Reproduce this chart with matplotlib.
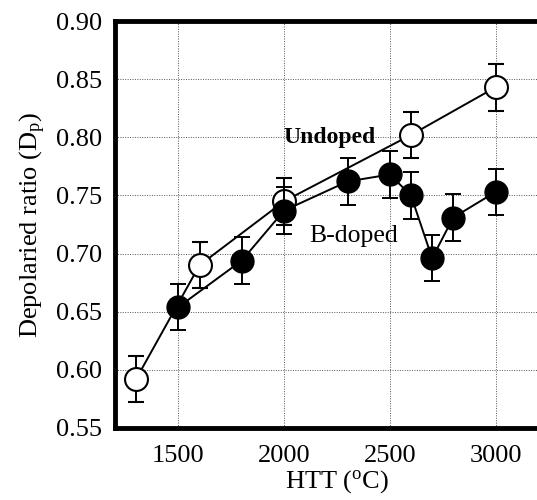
import numpy as np
import matplotlib
matplotlib.use("Agg")
import matplotlib.pyplot as plt

plt.rcParams['font.family'] = ['Liberation Serif', 'DejaVu Serif']
plt.rcParams['mathtext.fontset'] = 'custom'
plt.rcParams['mathtext.rm'] = 'Liberation Serif'
plt.rcParams['mathtext.it'] = 'Liberation Serif'

# undoped samples (open circles)
htt_undoped = [1300, 1600, 2000, 2600, 3000]
dp_undoped = [0.592, 0.690, 0.745, 0.802, 0.843]
err_undoped = [0.020, 0.020, 0.020, 0.020, 0.020]

# boron doped samples (filled circles)
htt_doped = [1500, 1800, 2000, 2300, 2500, 2600, 2700, 2800, 3000]
dp_doped = [0.654, 0.694, 0.737, 0.762, 0.768, 0.750, 0.696, 0.731, 0.753]
err_doped = [0.020, 0.020, 0.020, 0.020, 0.020, 0.020, 0.020, 0.020, 0.020]

xticks = [1500, 2000, 2500, 3000]
yticks = [0.55, 0.60, 0.65, 0.70, 0.75, 0.80, 0.85, 0.90]

fig = plt.figure(figsize=(5.37, 5.0), dpi=100)
ax = fig.add_axes([0.214, 0.144, 0.827, 0.814])

ax.errorbar(htt_undoped, dp_undoped, yerr=err_undoped, fmt='-o', color='black',
            mfc='white', mec='black', mew=1.5, ms=16.5, lw=1.4, capsize=6,
            elinewidth=1.4, capthick=1.4, zorder=3)
ax.errorbar(htt_doped, dp_doped, yerr=err_doped, fmt='-o', color='black',
            mfc='black', mec='black', ms=16.5, lw=1.4, capsize=6,
            elinewidth=1.4, capthick=1.4, zorder=4)

ax.text(2213, 0.800, 'Undoped', fontsize=17, fontweight='bold', ha='center', va='center')
ax.text(2330, 0.715, 'B-doped', fontsize=18.5, ha='center', va='center')

ax.set_xlim(1200, 3300)
ax.set_ylim(0.55, 0.90)
ax.set_xticks(xticks)
ax.set_yticks(yticks)
ax.set_yticklabels(['%.2f' % v for v in yticks])
ax.tick_params(length=0, labelsize=19)
ax.tick_params(axis='y', pad=9)
ax.tick_params(axis='x', pad=12)
ax.grid(True, linestyle=(0, (1, 1.5)), color='#555555', linewidth=0.7)
ax.set_axisbelow(True)
for s in ax.spines.values():
    s.set_linewidth(3.5)

ax.set_xlabel(r'HTT ($^{\rm o}$C)', fontsize=19, labelpad=1)
ax.set_ylabel(r'Depolaried ratio (D$_{\rm p}$)', fontsize=19, labelpad=6)

fig.savefig('out.png', dpi=100)
